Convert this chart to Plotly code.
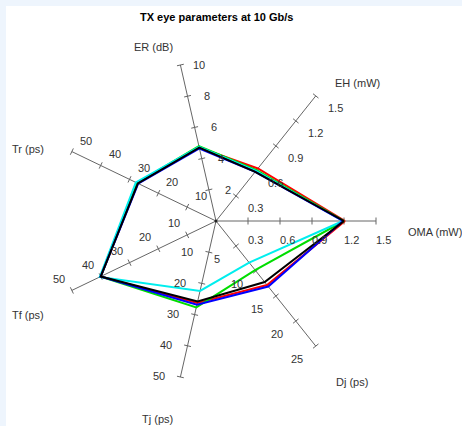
import numpy as np
import plotly.graph_objects as go

# Radar axes (counter-clockwise from the right) and their scales
axis_names = ["OMA (mW)", "EH (mW)", "ER (dB)", "Tr (ps)", "Tf (ps)", "Tj (ps)", "Dj (ps)"]
axis_max = [1.5, 1.5, 10, 50, 50, 50, 25]
axis_ticks = [
    [0.3, 0.6, 0.9, 1.2, 1.5],
    [0.3, 0.6, 0.9, 1.2, 1.5],
    [2, 4, 6, 8, 10],
    [10, 20, 30, 40, 50],
    [10, 20, 30, 40, 50],
    [10, 20, 30, 40, 50],
    [5, 10, 15, 20, 25],
]
tick_text = [
    ["0.3", "0.6", "0.9", "1.2", "1.5"],
    ["0.3", "0.6", "0.9", "1.2", "1.5"],
    ["2", "4", "6", "8", "10"],
    ["10", "20", "30", "40", "50"],
    ["10", "20", "30", "40", "50"],
    ["10", "20", "30", "40", "50"],
    ["5", "10", "15", "20", "25"],
]

# Measured eye parameters per transmitter (same axis order as above)
series_red = [1.21, 0.63, 4.70, 27.2, 40.0, 26.3, 12.8]
series_green = [1.20, 0.61, 4.80, 27.4, 40.0, 27.7, 9.8]
series_blue = [1.19, 0.59, 4.65, 27.0, 40.0, 26.8, 13.1]
series_cyan = [1.19, 0.60, 4.75, 27.8, 40.3, 22.4, 8.3]
series_black = [1.20, 0.59, 4.70, 27.1, 40.0, 25.8, 12.2]

# ---- layout helpers (pixel units, centre of the star at origin, y up) ----
AX_LEN = 160.0
n_ax = len(axis_names)
angles = np.deg2rad(np.arange(n_ax) * 360.0 / n_ax)
ux, uy = np.cos(angles), np.sin(angles)

# screen offsets (right, down) of tick labels and axis titles
label_offset = [(7, 19), (20, 12.5), (19, 0), (14, -11), (-13, -11.5), (-21.5, -0.5), (-18.7, 12.5)]
title_offset = [(59, 10.7), (42, -13), (-27, -18), (-44, -2.6), (-44, 24.6), (-23, 42), (36, 36)]


def to_xy(vals):
    r = np.array(vals, dtype=float) / np.array(axis_max) * AX_LEN
    x = r * ux
    y = r * uy
    return np.append(x, x[0]), np.append(y, y[0])


fig = go.Figure()

# axis spokes with tick marks
lx, ly = [], []
half = 3.5
for i in range(n_ax):
    lx += [0, AX_LEN * ux[i], None]
    ly += [0, AX_LEN * uy[i], None]
    px, py = -uy[i], ux[i]
    for t in axis_ticks[i]:
        r = t / axis_max[i] * AX_LEN
        cx, cy = r * ux[i], r * uy[i]
        lx += [cx - half * px, cx + half * px, None]
        ly += [cy - half * py, cy + half * py, None]
fig.add_trace(go.Scatter(x=lx, y=ly, mode="lines", line=dict(color="#666666", width=1),
                         hoverinfo="skip", showlegend=False))

for vals, col, w in [(series_red, "#ff0000", 2), (series_green, "#00dd00", 2),
                     (series_cyan, "#00eeee", 2), (series_blue, "#0000ff", 2),
                     (series_black, "#000000", 2)]:
    x, y = to_xy(vals)
    fig.add_trace(go.Scatter(x=x, y=y, mode="lines", line=dict(color=col, width=w),
                             hoverinfo="skip", showlegend=False))

fig.add_trace(go.Scatter(x=[0], y=[0], mode="markers", marker=dict(color="#222", size=3),
                         hoverinfo="skip", showlegend=False))

annotations = []
font = dict(family="Liberation Sans, Arial, sans-serif", size=11, color="#333333")
for i in range(n_ax):
    ox, oy = label_offset[i]
    for t, txt in zip(axis_ticks[i], tick_text[i]):
        r = t / axis_max[i] * AX_LEN
        annotations.append(dict(x=r * ux[i] + ox, y=r * uy[i] - oy, text=txt, showarrow=False,
                                xref="x", yref="y", xanchor="center", yanchor="middle", font=font))
    tx, ty = title_offset[i]
    annotations.append(dict(x=AX_LEN * ux[i] + tx, y=AX_LEN * uy[i] - ty, text=axis_names[i],
                            showarrow=False, xref="x", yref="y", xanchor="center",
                            yanchor="middle", font=font))

annotations.append(dict(x=0.7, y=215 - 11, text="<b>TX eye parameters at 10 Gb/s</b>",
                        showarrow=False, xref="x", yref="y", xanchor="center", yanchor="middle",
                        font=dict(family="Liberation Sans, Arial, sans-serif", size=11,
                                  color="#000000")))

fig.update_layout(
    width=462, height=426,
    margin=dict(l=6, t=6, r=0, b=0),
    paper_bgcolor="#eef5fd",
    plot_bgcolor="#ffffff",
    xaxis=dict(range=[-210, 246], visible=False, fixedrange=True),
    yaxis=dict(range=[-205, 215], visible=False, fixedrange=True),
    annotations=annotations,
    showlegend=False,
)

fig.write_html("out.html")
